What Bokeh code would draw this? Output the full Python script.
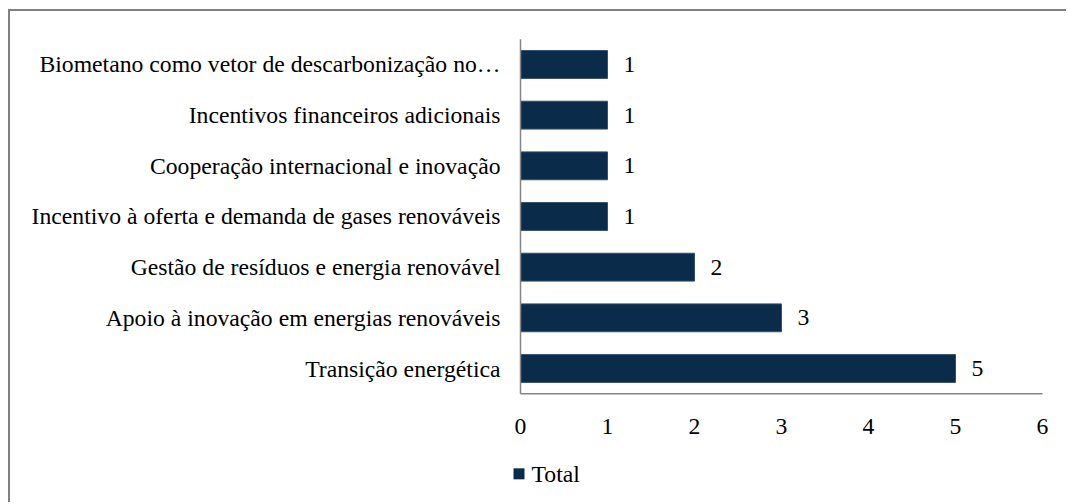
from bokeh.plotting import figure
from bokeh.models import ColumnDataSource, Range1d
from bokeh.core.properties import value
from bokeh.embed import file_html
from bokeh.resources import INLINE

categories = [
    "Biometano como vetor de descarbonização no…",
    "Incentivos financeiros adicionais",
    "Cooperação internacional e inovação",
    "Incentivo à oferta e demanda de gases renováveis",
    "Gestão de resíduos e energia renovável",
    "Apoio à inovação em energias renováveis",
    "Transição energética",
]
values = [1, 1, 1, 1, 2, 3, 5]
x_ticks = [0, 1, 2, 3, 4, 5, 6]
series_name = "Total"

FONT = "Liberation Serif"
FS = "23.7px"
BAR = "#0b2b4b"
GRAY = "#858585"

# canvas / layout constants (pixels)
W, H = 1058, 493
PX_X = 87.0      # pixels per value unit
PX_Y = 50.67     # pixels per category row
ORIGIN_X = 510   # canvas x of value 0
ROW0_Y = 357     # canvas y of the lowest category row

n = len(categories)
rows = [n - 1 - i for i in range(n)]  # top category drawn highest

src = ColumnDataSource(dict(row=rows, val=values, cat=categories,
                            lab=[str(v) for v in values],
                            labx=[v + 16 / PX_X for v in values]))

p = figure(width=W, height=H, output_backend="svg", toolbar_location=None,
           x_range=Range1d(-ORIGIN_X / PX_X, (W - ORIGIN_X) / PX_X),
           y_range=Range1d(-(H - ROW0_Y) / PX_Y, ROW0_Y / PX_Y),
           x_axis_location=None, y_axis_location=None, min_border=0)
p.margin = (9, 0, 0, 8)
p.styles = {"border-top": "2px solid #808080", "border-left": "2px solid #808080"}
p.outline_line_color = None
p.grid.visible = False

# bars
bars = p.hbar(y="row", right="val", left=0, height=0.55, source=src,
              fill_color=BAR, line_color="#34506b", line_width=1)

# value labels
p.text(x="labx", y="row", text="lab", source=src, text_align="left", text_baseline="middle",
       text_font=value(FONT), text_font_size=value(FS), text_color="#000000")

# category labels (y axis)
p.text(x=-20 / PX_X, y="row", text="cat", source=src, text_align="right", text_baseline="middle",
       text_font=value(FONT), text_font_size=value(FS), text_color="#000000")

# axis lines
p.segment(x0=[0], y0=[-0.5], x1=[0], y1=[n - 0.5], line_color=GRAY, line_width=1.5)
p.segment(x0=[0], y0=[-0.5], x1=[max(x_ticks)], y1=[-0.5], line_color=GRAY, line_width=1.5)

# x tick labels
p.text(x=x_ticks, y=[-0.5 - 33 / PX_Y] * len(x_ticks), text=[str(t) for t in x_ticks],
       text_align="center", text_baseline="middle",
       text_font=value(FONT), text_font_size=value(FS), text_color="#000000")

# legend
leg_y = -0.5 - 80 / PX_Y
p.scatter(x=[-1.5 / PX_X], y=[leg_y], marker="square", size=11, fill_color=BAR, line_color=None)
p.text(x=[11 / PX_X], y=[leg_y], text=[series_name], text_align="left", text_baseline="middle",
       text_font=value(FONT), text_font_size=value(FS), text_color="#000000")

open("out.html", "w").write(file_html(p, INLINE))
